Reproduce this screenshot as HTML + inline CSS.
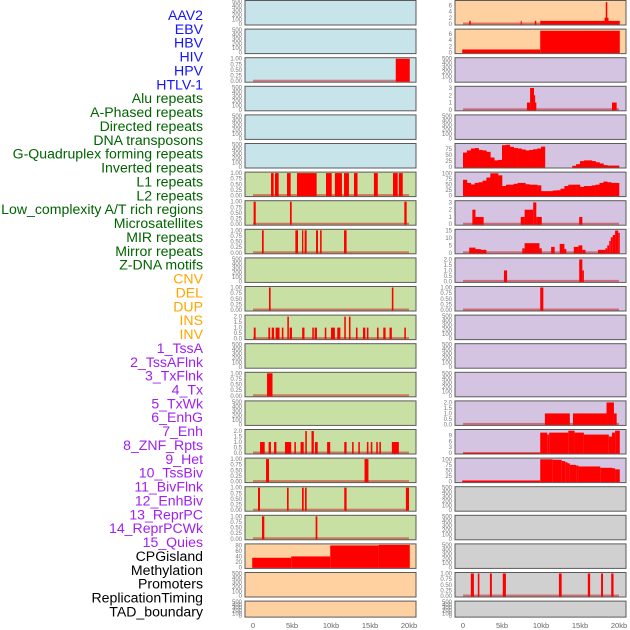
<!DOCTYPE html>
<html><head><meta charset="utf-8"><style>
html,body{margin:0;padding:0;background:#fff;}
svg{display:block;font-family:"Liberation Sans",sans-serif;}
</style></head><body>
<svg id="c" width="630" height="630" viewBox="0 0 630 630"></svg>
<script>
// ---- data ----
const trackLabels = ["AAV2","EBV","HBV","HIV","HPV","HTLV-1","Alu repeats","A-Phased repeats","Directed repeats","DNA transposons","G-Quadruplex forming repeats","Inverted repeats","L1 repeats","L2 repeats","Low_complexity A/T rich regions","Microsatellites","MIR repeats","Mirror repeats","Z-DNA motifs","CNV","DEL","DUP","INS","INV","1_TssA","2_TssAFlnk","3_TxFlnk","4_Tx","5_TxWk","6_EnhG","7_Enh","8_ZNF_Rpts","9_Het","10_TssBiv","11_BivFlnk","12_EnhBiv","13_ReprPC","14_ReprPCWk","15_Quies","CPGisland","Methylation","Promoters","ReplicationTiming","TAD_boundary"];
const labelGroups = ["v","v","v","v","v","v","r","r","r","r","r","r","r","r","r","r","r","r","r","s","s","s","s","s","h","h","h","h","h","h","h","h","h","h","h","h","h","h","h","k","k","k","k","k"];
const xTickValues = [0,5,10,15,20];
const xTickLabels = ["0","5kb","10kb","15kb","20kb"];
const emptyTicks = [0,100,200,300,400,500];
const oneTicks = [0,0.25,0.5,0.75,1];
const twoTicks = [0,0.5,1,1.5,2];

// left column bars [startKb, endKb, value]
const L_HIV = [[18.3,20.1,1]];
const L_L1 = [[2.31,2.65,1],[2.82,3.29,1],[4.36,4.83,1],[5.64,8.16,1],[9.36,10.09,1],[10.5,11.4,1],[11.67,12.3,1],[12.95,13.4,1],[15.5,16.0,1],[17.95,18.55,1],[18.7,19.2,1]];
const L_L2 = [[0.08,0.35,1],[4.74,4.96,1],[19.4,19.7,1]];
const L_LowAT = [[1.15,1.37,1],[5.43,5.77,1],[6.28,6.45,1],[6.62,6.88,1],[8.08,8.33,1],[8.6,8.8,1],[11.67,12.0,1]];
const L_MIR = [[2.05,2.26,1],[17.8,18.0,1]];
const L_Mirror = [[0.1,0.34,1],[1.97,2.2,1],[2.4,2.7,1],[2.9,3.4,1],[3.7,3.9,1],[4.4,4.6,2],[4.7,5.0,1],[6.3,6.6,1],[7.6,7.8,1],[7.9,8.2,1],[9.2,9.4,1],[10.0,10.5,1],[10.8,11.2,1],[11.7,11.9,2],[12.3,12.5,2],[13.2,13.4,1],[14.1,14.4,1],[14.6,14.8,1],[15.9,16.1,1],[16.7,17.0,1],[17.5,17.8,1],[19.4,19.6,1]];
const L_DEL = [[1.8,2.5,1]];
const L_INS = [[0.9,1.5,1],[2.0,2.3,1],[2.7,3.0,1],[4.1,4.9,1],[5.3,5.5,1],[6.1,6.5,1],[6.7,6.9,2],[7.5,7.8,2],[7.95,8.3,1],[9.5,9.9,1],[11.7,12.0,1],[12.7,12.9,1],[13.5,13.7,1],[14.6,14.8,1],[15.1,15.3,1],[15.8,16.0,1],[16.2,16.4,1],[17.8,18.7,1]];
const L_INV = [[1.67,2.05,1],[14.3,14.8,1]];
const L_TssA = [[0.64,0.9,1],[4.36,4.57,1],[6.28,6.5,1],[6.67,6.88,1],[11.7,12.0,1],[19.6,20.0,1]];
const L_TssAFlnk = [[1.15,1.45,1],[8.03,8.25,1]];
const L_Meth = [[-0.1,4.9,35],[4.9,9.9,40],[9.9,16.1,80],[16.1,20.1,82]];

// right column
const R_AAV = [[0.8,1.0,1],[7.4,7.5,1],[9.2,9.4,1],[9.9,20.1,1],[18.15,18.65,2],[18.3,18.5,7]];
const R_EBV = [[-0.1,9.9,1],[9.9,20.1,7]];
const R_HPV = [[8.2,8.6,1],[8.6,9.1,3],[9.1,9.4,1],[9.1,9.25,2],[19.1,19.7,1]];
const R_GQuadBins = [61,70,78,80,72,70,64,40,28,30,92,94,85,80,78,74,70,72,75,78,86,0,0,0,0,0,0,0,5,12,25,28,28,25,20,15,8,6,6,6];
const R_InvBins = [71,57,50,57,60,67,81,100,100,91,43,49,49,53,57,57,51,49,49,46,20,20,20,23,24,31,43,49,49,49,39,43,43,46,49,57,63,60,57,57];
const R_L1 = [[1.2,1.6,2],[1.6,2.65,1],[7.4,7.9,1],[7.9,9.0,2],[9.0,9.4,3],[9.4,10.1,1],[14.9,15.3,1]];
const R_L2 = [[0.8,1.6,3.5],[1.6,2.3,2.5],[2.3,3.0,2],[7.6,7.9,3],[7.9,9.8,6.5],[9.8,10.1,3],[11.3,11.75,4],[12.4,13.0,6],[13.0,13.25,2.5],[14.2,14.8,4],[14.8,15.3,5],[15.3,15.7,2],[17.3,18.25,2],[18.25,18.5,3],[18.5,18.75,5],[18.75,18.95,8],[18.95,19.2,10.5],[19.2,19.5,12],[19.5,19.9,15],[19.9,20.1,13.5]];
const R_LowAT = [[5.25,5.65,1],[14.9,15.3,2],[15.3,15.5,1]];
const R_Micro = [[9.9,10.3,1]];
const R_Tx = [[10.5,13.7,1],[14.1,18.4,1],[18.4,19.35,2],[19.35,19.7,1]];
const R_TxWk = [[0,9.9,0.3],[9.9,10.8,10.5],[10.8,11.05,9.5],[11.05,13.5,10.5],[13.5,14.3,11.5],[14.3,15.5,10.5],[15.5,18.7,9.5],[18.7,19.1,8.5],[19.1,19.5,10.5],[19.5,20.1,11.5]];
const R_EnhG = [[-0.1,9.9,5],[9.9,11.5,100],[11.5,12.65,98],[12.65,13.1,92],[13.1,13.4,87],[13.4,13.7,82],[13.7,14.5,75],[14.5,14.8,72],[14.8,17.6,68],[17.6,19.1,62],[19.1,19.5,60],[19.5,20.1,55]];
const R_Prom = [[1.0,1.4,1],[1.9,2.1,1],[3.45,3.7,1],[5.1,5.5,1],[12.3,12.65,1],[16.0,16.3,1],[17.7,17.95,1],[19.0,19.3,1]];

// ---- drawing ----
const svg = document.getElementById('c');
const NS = 'http://www.w3.org/2000/svg';
const BG = {b:'#c8e4eb', g:'#c8e0a4', o:'#ffd1a1', p:'#d4c4e1', k:'#d0d0d0'};
const LCOL = {v:'#1414ff', r:'#006400', s:'#ffa500', h:'#a020f0', k:'#000000'};
function mk(tag, attrs, parent){const e=document.createElementNS(NS,tag);for(const k in attrs)e.setAttribute(k,attrs[k]);(parent||svg).appendChild(e);return e;}
function xs(col,kb){return (col===0?253:463)+kb*7.8;}
function rowTop(r){return 28.6*r+0.5;}
function rowH(r){return r===21?16:24.5;}
function fmt(t,ticks){
  if(ticks===oneTicks) return t.toFixed(2);
  if(ticks===twoTicks) return t.toFixed(1);
  return String(t);
}

function panel(col,row,bg,ymax,ticks,bars,bins,baseline,name){
  const g = mk('g',{});
  
  
  const left = col===0?245:455, top=rowTop(row), h=rowH(row);
  const y0 = top+h-1, y1 = top+1;
  const ys = v => y0 - (v/ymax)*(y0-y1);
  const rect = mk('rect',{x:left,y:top,width:171,height:h,fill:BG[bg],stroke:'#5a5a5a','stroke-width':1},g);
  
  
  ticks.forEach(t=>{
    const tx = mk('text',{x:left-3,y:ys(t)+2,'font-size':6,fill:'#777','text-anchor':'end'},g);
    tx.textContent = fmt(t,ticks);
    
    
  });
  if(baseline){
    const bl = mk('rect',{x:xs(col,0),y:y0-1.5,width:20*7.8,height:2,fill:'rgba(200,0,0,0.45)'},g);
    
    
  }
  (bars||[]).forEach(b=>{
    const x=xs(col,b[0]), w=Math.max(1,xs(col,b[1])-x), y=ys(Math.min(b[2],ymax));
    const r = mk('rect',{x:x,y:y,width:w,height:y0-y+0.5,fill:'#ff0000'},g);
    
    
  });
  if(bins){
    bins.forEach((v,i)=>{
      if(v<=0) return;
      const x=xs(col,i*0.5), w=xs(col,(i+1)*0.5)-x+0.3, y=ys(v);
      const r = mk('rect',{x:x,y:y,width:w,height:y0-y+0.5,fill:'#ff0000'},g);
      
      
    });
  }
}

// left column
const Lspec = [
 ['b',500,emptyTicks,null,null,false],['b',500,emptyTicks,null,null,false],['b',1,oneTicks,L_HIV,null,true],
 ['b',500,emptyTicks,null,null,false],['b',500,emptyTicks,null,null,false],['b',500,emptyTicks,null,null,false],
 ['g',1,oneTicks,L_L1,null,true],['g',1,oneTicks,L_L2,null,true],['g',1,oneTicks,L_LowAT,null,true],
 ['g',500,emptyTicks,null,null,false],['g',1,oneTicks,L_MIR,null,true],['g',2.05,twoTicks,L_Mirror,null,true],
 ['g',500,emptyTicks,null,null,false],['g',1,oneTicks,L_DEL,null,true],['g',500,emptyTicks,null,null,false],
 ['g',2.05,twoTicks,L_INS,null,true],['g',1,oneTicks,L_INV,null,true],['g',1,oneTicks,L_TssA,null,true],
 ['g',1,oneTicks,L_TssAFlnk,null,true],['o',82,[0,20,40,60,80],L_Meth,null,false],['o',500,emptyTicks,null,null,false],['o',500,emptyTicks,null,null,false]
];
Lspec.forEach((s,i)=>panel(0,i,s[0],s[1],s[2],s[3],s[4],s[5],'left-track-'+i));
const Rspec = [
 ['o',7.2,[0,2,4,6],R_AAV,null,true],['o',7.2,[0,2,4,6],R_EBV,null,false],['p',500,emptyTicks,null,null,false],
 ['p',3.1,[0,1,2,3],R_HPV,null,true],['p',500,emptyTicks,null,null,false],['p',95,[0,25,50,75],null,R_GQuadBins,false],
 ['p',101,[0,25,50,75,100],null,R_InvBins,false],['p',3.1,[0,1,2,3],R_L1,null,true],['p',15.2,[0,5,10,15],R_L2,null,true],
 ['p',2.05,twoTicks,R_LowAT,null,true],['p',1,oneTicks,R_Micro,null,true],['p',500,emptyTicks,null,null,false],
 ['p',500,emptyTicks,null,null,false],['p',500,emptyTicks,null,null,false],['p',2.05,twoTicks,R_Tx,null,true],
 ['p',11.6,[0,3,6,9],R_TxWk,null,false],['p',101,[0,25,50,75,100],R_EnhG,null,false],['k',500,emptyTicks,null,null,false],
 ['k',500,emptyTicks,null,null,false],['k',500,emptyTicks,null,null,false],['k',1,oneTicks,R_Prom,null,true],['k',500,emptyTicks,null,null,false]
];
Rspec.forEach((s,i)=>panel(1,i,s[0],s[1],s[2],s[3],s[4],s[5],'right-track-'+i));

// x axes
[0,1].forEach(col=>{
  xTickValues.forEach((v,i)=>{
    const t = mk('text',{x:xs(col,v),y:628,'font-size':7.5,fill:'#666','text-anchor':'middle'});
    t.textContent = xTickLabels[i];
    
    
  });
});

// left labels
trackLabels.forEach((lab,i)=>{
  const t = mk('text',{x:203,y:20+i*13.87,'font-size':14.1,fill:LCOL[labelGroups[i]],'text-anchor':'end'});
  t.textContent = lab;
  
  
});
</script>
</body></html>
